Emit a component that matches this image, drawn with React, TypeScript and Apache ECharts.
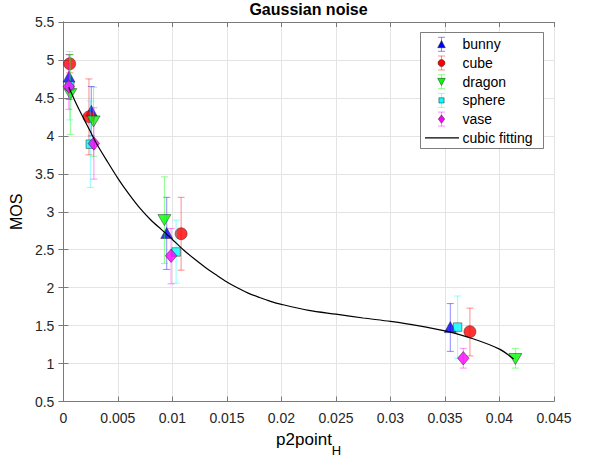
import React, { useEffect, useRef } from 'react';
import * as echarts from 'echarts';

// ---- data ----
const bunnyX = [0.00052, 0.00256, 0.00948, 0.03549];
const bunnyMOS = [4.78, 4.33, 2.72, 1.48];
const bunnyLow = [4.48, 4.0, 2.24, 1.16];
const bunnyHigh = [5.07, 4.65, 3.19, 1.79];

const cubeX = [0.00058, 0.00235, 0.0108, 0.03729];
const cubeMOS = [4.95, 4.25, 2.71, 1.42];
const cubeLow = [4.83, 3.75, 2.23, 1.1];
const cubeHigh = [5.07, 4.75, 3.19, 1.73];

const dragonX = [0.00064, 0.00277, 0.00927, 0.04146];
const dragonMOS = [4.55, 4.19, 2.89, 1.06];
const dragonLow = [4.02, 3.73, 2.32, 0.94];
const dragonHigh = [5.07, 4.64, 3.46, 1.2];

const sphereX = [0.00058, 0.00247, 0.01034, 0.03616];
const sphereMOS = [4.66, 3.89, 2.47, 1.48];
const sphereLow = [4.21, 3.32, 2.06, 1.07];
const sphereHigh = [5.11, 4.46, 2.89, 1.89];

const vaseX = [0.0005, 0.0028, 0.00988, 0.03668];
const vaseMOS = [4.65, 3.9, 2.42, 1.07];
const vaseLow = [4.35, 3.43, 2.05, 0.94];
const vaseHigh = [4.95, 4.37, 2.78, 1.2];

// cubic fitting curve
const fitX = [0.0005, 0.001, 0.0015, 0.002, 0.0025, 0.003, 0.004, 0.005, 0.006, 0.007, 0.008, 0.009, 0.010, 0.011, 0.012, 0.013, 0.014, 0.015, 0.016, 0.017, 0.018, 0.019, 0.020, 0.0225, 0.025, 0.0275, 0.030, 0.0325, 0.035, 0.0375, 0.040, 0.0413];
const fitY = [4.64, 4.48, 4.33, 4.19, 4.05, 3.91, 3.67, 3.44, 3.235, 3.05, 2.895, 2.765, 2.635, 2.50, 2.38, 2.27, 2.17, 2.075, 1.995, 1.925, 1.87, 1.82, 1.78, 1.70, 1.65, 1.60, 1.555, 1.50, 1.43, 1.33, 1.19, 1.06];

const seriesNames = ['bunny', 'cube', 'dragon', 'sphere', 'vase'];
const fitName = 'cubic fitting';
const titleText = 'Gaussian noise';
const xName = 'p2point';
const xSub = 'H';
const yName = 'MOS';

const groups = [
  { name: seriesNames[0], x: bunnyX, m: bunnyMOS, lo: bunnyLow, hi: bunnyHigh, color: '#0000ff', symbol: 'triangle', size: [12, 11] },
  { name: seriesNames[1], x: cubeX, m: cubeMOS, lo: cubeLow, hi: cubeHigh, color: '#ff0000', symbol: 'circle', size: 12 },
  { name: seriesNames[2], x: dragonX, m: dragonMOS, lo: dragonLow, hi: dragonHigh, color: '#00ff00', symbol: 'path://M0,0L10,0L5,10Z', size: [13, 11] },
  { name: seriesNames[3], x: sphereX, m: sphereMOS, lo: sphereLow, hi: sphereHigh, color: '#00ffff', symbol: 'rect', size: 8.5 },
  { name: seriesNames[4], x: vaseX, m: vaseMOS, lo: vaseLow, hi: vaseHigh, color: '#ff00ff', symbol: 'diamond', size: [11.5, 13.5] },
];

const FONT = '"Liberation Sans", Arial, Helvetica, sans-serif';
const AXIS_COLOR = '#7a7a7a';
const GRID_COLOR = '#e4e4e4';

export default function App() {
  const ref = useRef<HTMLDivElement>(null);
  useEffect(() => {
    if (!ref.current) return;
    const chart = echarts.init(ref.current, undefined, { renderer: 'svg' });
    const series: any[] = [];
    groups.forEach((g, gi) => {
      const color = g.color;
      series.push({
        type: 'custom',
        name: g.name + '-err',
        z: 3 + gi * 2,
        data: g.x.map((x, i) => [x, g.lo[i], g.hi[i]]),
        encode: { x: 0, y: [1, 2] },
        renderItem: (params: any, api: any) => {
          const x = api.value(0);
          const pLo = api.coord([x, api.value(1)]);
          const pHi = api.coord([x, api.value(2)]);
          const w = 3.5;
          const style = { stroke: color, lineWidth: 1, opacity: 0.45 };
          return {
            type: 'group',
            children: [
              { type: 'line', shape: { x1: pLo[0], y1: pLo[1], x2: pHi[0], y2: pHi[1] }, style },
              { type: 'line', shape: { x1: pLo[0] - w, y1: pLo[1], x2: pLo[0] + w, y2: pLo[1] }, style },
              { type: 'line', shape: { x1: pHi[0] - w, y1: pHi[1], x2: pHi[0] + w, y2: pHi[1] }, style },
            ],
          };
        },
      });
      series.push({
        type: 'scatter',
        name: g.name,
        z: 4 + gi * 2,
        symbol: g.symbol,
        symbolSize: g.size,
        itemStyle: { color, borderColor: '#222', borderWidth: 0.6 },
        data: g.x.map((x, i) => [x, g.m[i]]),
      });
    });
    series.push({
      type: 'line',
      name: fitName,
      z: 20,
      smooth: 0.3,
      showSymbol: false,
      symbol: 'none',
      lineStyle: { color: '#000', width: 1.2 },
      data: fitX.map((x, i) => [x, fitY[i]]),
    });

    // legend built with graphic elements
    const lx = 441.5;
    const rowY = [44.3, 63, 81.7, 100.4, 119.1, 137.8];
    const legendChildren: any[] = [
      { type: 'rect', z: 1, shape: { x: 420.5, y: 32.5, width: 123, height: 116 }, style: { fill: '#fff', stroke: '#262626', lineWidth: 0.6 } },
    ];
    groups.forEach((g, i) => {
      const y = rowY[i];
      const st = { stroke: g.color, lineWidth: 1, opacity: 0.45 };
      legendChildren.push(
        { type: 'polyline', z: 2, shape: { points: [[lx, y - 7], [lx, y + 7]] }, style: st },
        { type: 'polyline', z: 2, shape: { points: [[lx - 3.5, y - 7], [lx + 3.5, y - 7]] }, style: st },
        { type: 'polyline', z: 2, shape: { points: [[lx - 3.5, y + 7], [lx + 3.5, y + 7]] }, style: st },
      );
      const mst = { fill: g.color, stroke: '#222', lineWidth: 0.5 };
      let pts: number[][] = [];
      if (i === 0) pts = [[lx - 3.8, y + 3.4], [lx + 3.8, y + 3.4], [lx, y - 3.8]];
      if (i === 2) pts = [[lx - 3.8, y - 3.4], [lx + 3.8, y - 3.4], [lx, y + 3.8]];
      if (i === 3) pts = [[lx - 2.6, y - 2.6], [lx + 2.6, y - 2.6], [lx + 2.6, y + 2.6], [lx - 2.6, y + 2.6]];
      if (i === 4) pts = [[lx, y - 4.2], [lx + 3.2, y], [lx, y + 4.2], [lx - 3.2, y]];
      if (i === 1) legendChildren.push({ type: 'circle', z: 3, shape: { cx: lx, cy: y, r: 3.5 }, style: mst });
      else legendChildren.push({ type: 'polygon', z: 3, shape: { points: pts }, style: mst });
      legendChildren.push({ type: 'text', z: 3, x: 462.5, y: y - 7, style: { text: g.name, fill: '#000', fontSize: 14, fontFamily: FONT, lineHeight: 14 } });
    });
    legendChildren.push(
      { type: 'polyline', z: 2, shape: { points: [[425, rowY[5]], [459, rowY[5]]] }, style: { stroke: '#000', lineWidth: 1.2 } },
      { type: 'text', z: 3, x: 462.5, y: rowY[5] - 7, style: { text: fitName, fill: '#000', fontSize: 14, fontFamily: FONT, lineHeight: 14 } },
    );

    const axisLabel = { color: '#262626', fontSize: 14, fontFamily: FONT };
    chart.setOption({
      animation: false,
      backgroundColor: '#fff',
      textStyle: { fontFamily: FONT },
      title: {
        text: titleText,
        left: 308.5,
        textAlign: 'center',
        top: 1.5,
        padding: 0,
        textStyle: { fontSize: 16, fontWeight: 'bold', color: '#000', fontFamily: FONT },
      },
      grid: { left: 62, right: 39, top: 22, bottom: 54, containLabel: false },
      xAxis: [
        {
          type: 'value', min: 0, max: 0.045, interval: 0.005, position: 'bottom',
          name: `{a|${xName}}{b|${xSub}}`, nameLocation: 'middle', nameGap: 29.5,
          nameTextStyle: {
            color: '#000',
            rich: {
              a: { fontSize: 17, fontFamily: FONT, color: '#000', verticalAlign: 'top' },
              b: { fontSize: 13, fontFamily: FONT, color: '#000', lineHeight: 26, verticalAlign: 'bottom' },
            },
          },
          axisLine: { show: true, lineStyle: { color: AXIS_COLOR, width: 1 } },
          axisTick: { show: true, inside: true, length: 5, lineStyle: { color: AXIS_COLOR } },
          axisLabel: { ...axisLabel, margin: 9, formatter: (v: number) => String(Number(v.toFixed(4))) },
          splitLine: { show: true, lineStyle: { color: GRID_COLOR, width: 1 } },
        },
        {
          type: 'value', min: 0, max: 0.045, interval: 0.005, position: 'top',
          axisLine: { show: true, lineStyle: { color: AXIS_COLOR, width: 1 } },
          axisTick: { show: true, inside: true, length: 5, lineStyle: { color: AXIS_COLOR } },
          axisLabel: { show: false },
          splitLine: { show: false },
        },
      ],
      yAxis: [
        {
          type: 'value', min: 0.5, max: 5.5, interval: 0.5, position: 'left',
          name: yName, nameLocation: 'middle', nameGap: 30,
          nameTextStyle: { fontSize: 16, color: '#000', fontFamily: FONT },
          axisLine: { show: true, lineStyle: { color: AXIS_COLOR, width: 1 } },
          axisTick: { show: true, inside: true, length: 5, lineStyle: { color: AXIS_COLOR } },
          axisLabel: { ...axisLabel, margin: 9 },
          splitLine: { show: true, lineStyle: { color: GRID_COLOR, width: 1 } },
        },
        {
          type: 'value', min: 0.5, max: 5.5, interval: 0.5, position: 'right',
          axisLine: { show: true, lineStyle: { color: AXIS_COLOR, width: 1 } },
          axisTick: { show: true, inside: true, length: 5, lineStyle: { color: AXIS_COLOR } },
          axisLabel: { show: false },
          splitLine: { show: false },
        },
      ],
      graphic: [{ type: 'group', z: 100, children: legendChildren }],
      series,
    });
    return () => chart.dispose();
  }, []);
  return <div ref={ref} style={{ width: 593, height: 462, position: 'absolute', left: 0, top: 0 }} />;
}
